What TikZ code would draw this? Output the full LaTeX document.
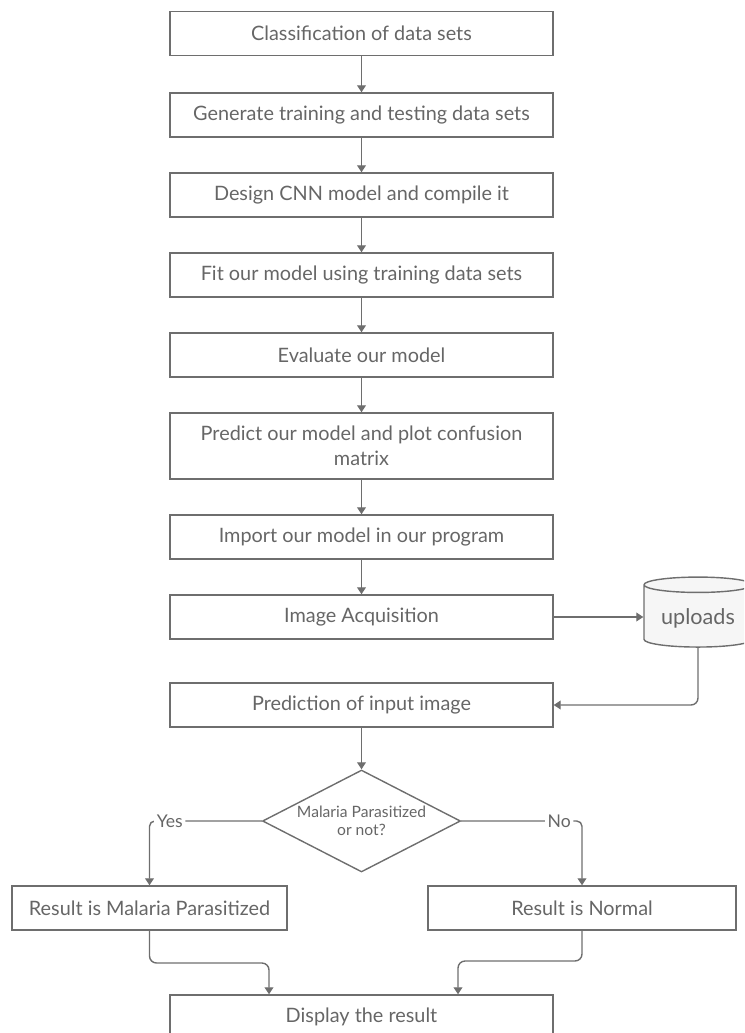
\documentclass[tikz,border=0pt]{standalone}
\usepackage{fontspec}
\setmainfont{Lato}
\usetikzlibrary{shapes.geometric,arrows.meta}

\begin{document}
\begin{tikzpicture}[x=0.02cm, y=-0.02cm,
    box/.style={draw=line_gray, line width=0.8pt, minimum width=7.66cm, minimum height=0.88cm,
        text=text_gray, align=center, font=\fontsize{11.3}{14.2}\selectfont},
    decision/.style={diamond, draw=line_gray, line width=0.8pt, minimum width=3.96cm,
        minimum height=2.04cm, inner sep=0pt},
    db/.style={cylinder, shape border rotate=90, aspect=0.18, draw=line_gray, fill=db_fill,
        line width=0.8pt, minimum width=2.16cm, minimum height=1.4cm, text=text_gray,
        font=\fontsize{12.3}{14}\selectfont},
    tag/.style={fill=white, inner sep=1.5pt, text=text_gray, font=\fontsize{10}{12}\selectfont},
    link/.style={draw=line_gray, line width=0.8pt, -{Triangle[width=5pt,length=4pt]}}]
    \definecolor{line_gray}{HTML}{6E6E6E}
    \definecolor{text_gray}{HTML}{666666}
    \definecolor{db_fill}{HTML}{F6F6F6}
    %\draw[help lines] (0,0) grid (744,1033);

    \useasboundingbox (0,0) rectangle (744,1033);
    \clip (0,0) rectangle (744,1033);

    \node[box] (classify) at (361.5, 33.5) {Classification of data sets};
    \node[box] (split) at (361.5, 115) {Generate training and testing data sets};
    \node[box] (design) at (361.5, 195) {Design CNN model and compile it};
    \node[box] (fit) at (361.5, 275) {Fit our model using training data sets};
    \node[box] (evaluate) at (361.5, 355) {Evaluate our model};
    \node[box, minimum height=1.32cm] (predict) at (361.5, 446) {Predict our model and plot confusion\\matrix};
    \node[box] (import) at (361.5, 537) {Import our model in our program};
    \node[box] (acquire) at (361.5, 617) {Image Acquisition};
    \node[box] (inputpred) at (361.5, 705) {Prediction of input image};
    \node[db] (uploads) at (698, 618) {uploads};

    \node[decision] (decide) at (361.5, 821) {};
    \node[text=text_gray, align=center, font=\fontsize{8.9}{10.5}\selectfont] (decidetext) at (decide) {Malaria Parasitized\\or not?};

    \node[box, minimum width=5.5cm] (parasitized) at (149.5, 908) {Result is Malaria Parasitized};
    \node[box, minimum width=6.16cm] (normal) at (582, 908) {Result is Normal};
    \node[box] (display) at (361.5, 1017) {Display the result};

    \coordinate (joinL) at (269, 963);
    \coordinate (joinR) at (458, 961);

    % main chain
    \foreach \a/\b in {classify/split, split/design, design/fit, fit/evaluate, evaluate/predict,
        predict/import, import/acquire, inputpred/decide}
        \draw[link] (\a) -- (\b);

    % store and read back
    \draw[link] (acquire.east) -- (acquire.east -| uploads.west);
    \draw[link, rounded corners=4pt] (uploads.south) |- (inputpred.east);

    % branches
    \draw[link, rounded corners=3pt] (decide.west) -| node[tag, pos=0.41] {Yes} (parasitized.north);
    \draw[link, rounded corners=3pt] (decide.east) -| node[tag, pos=0.406] {No} (normal.north);
    \draw[link, rounded corners=4pt] (parasitized.south) |- (joinL) -- (joinL |- display.north);
    \draw[link, rounded corners=4pt] (normal.south) |- (joinR) -- (joinR |- display.north);
\end{tikzpicture}
\end{document}
